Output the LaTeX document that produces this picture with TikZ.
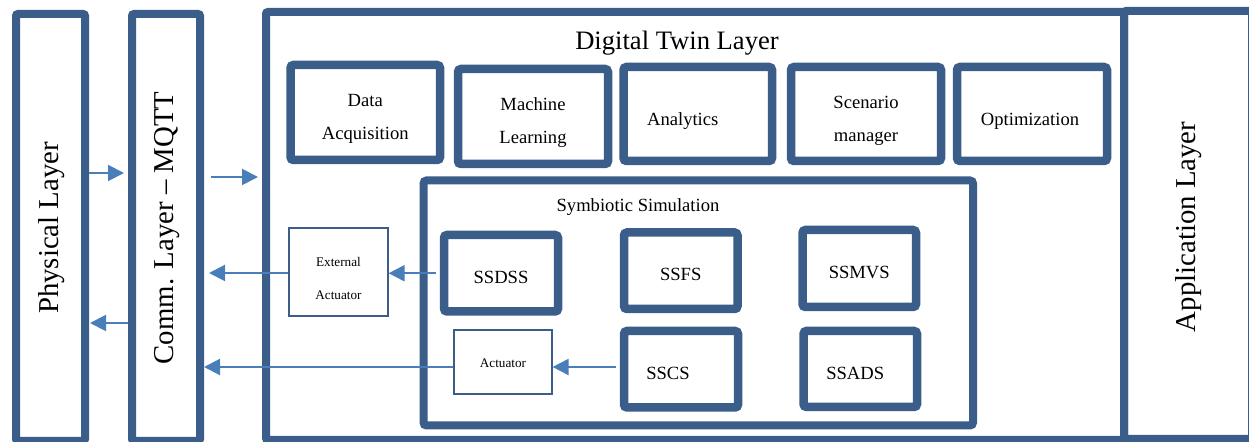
\documentclass[tikz,border=0pt]{standalone}
\usepackage{fontspec}
\setmainfont{Liberation Serif}
\definecolor{layerblue}{RGB}{59, 93, 138}
\definecolor{flowblue}{RGB}{74, 126, 187}
\usetikzlibrary{shapes, arrows.meta, positioning, calc}

\newcommand{\layerfont}{\fontsize{14.4}{17}\selectfont}
\newcommand{\titlefont}{\fontsize{13.3}{16}\selectfont}
\newcommand{\modfont}{\fontsize{9.3}{16.5}\selectfont}
\newcommand{\actfont}{\fontsize{6.6}{16.5}\selectfont}

\tikzset{
  layerbox/.style={draw=layerblue, line width=4pt, rounded corners=1pt, inner sep=0pt},
  modbox/.style={draw=layerblue, line width=4.25pt, rounded corners=1.5pt, inner sep=0pt},
  modtext/.style={align=center, font=\modfont, inner sep=0pt},
  actbox/.style={draw=layerblue, line width=0.6pt, inner sep=0pt},
  acttext/.style={align=center, font=\actfont, inner sep=0pt},
  flow/.style={draw=flowblue, line width=1pt, -{Triangle[length=8pt, width=8pt]}}
}

\begin{document}
\begin{tikzpicture}[x=0.5pt, y=-0.5pt]
  \useasboundingbox (0,0) rectangle (1249,442);
  \clip (0,0) rectangle (1249,442);

  % layers
  \node[layerbox, minimum width=34.5pt, minimum height=213.5pt] (phys) at (50.5,227.5) {};
  \node[layerbox, minimum width=34pt, minimum height=213.5pt] (comm) at (166,227.5) {};
  \node[layerbox, minimum width=429pt, minimum height=214pt] (dt) at (695,226) {};
  \node[layerbox, minimum width=64pt, minimum height=214pt] (app) at (1188,225) {};

  \node[rotate=90, font=\layerfont] (physlabel) at (52,228) {Physical Layer};
  \node[rotate=90, font=\layerfont] (commlabel) at (167,228) {Comm. Layer -- MQTT};
  \node[rotate=90, font=\layerfont] (applabel) at (1189,227) {Application Layer};
  \node[font=\titlefont] (dttitle) at (677,43) {Digital Twin Layer};

  % digital twin modules
  \node[modbox, minimum width=74.75pt, minimum height=47.5pt] (dataacq) at (365.25,112.5) {};
  \node[modbox, minimum width=75pt, minimum height=47.5pt] (machlearn) at (533,116.5) {};
  \node[modbox, minimum width=74.25pt, minimum height=47pt] (analytics) at (697.75,114) {};
  \node[modbox, minimum width=75pt, minimum height=47pt] (scenario) at (866,114) {};
  \node[modbox, minimum width=75pt, minimum height=47pt] (optim) at (1032,114) {};
  \node[modtext] (dataacqtext) at ([yshift=-3pt]dataacq) {Data\\Acquisition};
  \node[modtext] (machlearntext) at ([yshift=-3pt]machlearn) {Machine\\Learning};
  \node[modtext] (analyticstext) at ([xshift=-7.5pt, yshift=-3.5pt]analytics) {Analytics};
  \node[modtext] (scenariotext) at ([yshift=-3.5pt]scenario) {Scenario\\manager};
  \node[modtext] (optimtext) at ([xshift=-1pt, yshift=-3.5pt]optim) {Optimization};

  % symbiotic simulation
  \node[modbox, line width=4pt, minimum width=274.75pt, minimum height=122.5pt] (symsim) at (698.25,303) {};
  \node[modtext] (symtitle) at (638,207) {Symbiotic Simulation};
  \node[modbox, minimum width=57pt, minimum height=38.25pt] (ssdss) at (501,273.25) {};
  \node[modbox, minimum width=56.75pt, minimum height=38.25pt] (ssfs) at (680.75,270.75) {};
  \node[modbox, minimum width=57pt, minimum height=38.25pt] (sscs) at (681,369.25) {};
  \node[modbox, minimum width=56.75pt, minimum height=38.5pt] (ssmvs) at (859.25,268.5) {};
  \node[modbox, minimum width=56.75pt, minimum height=38pt] (ssads) at (860.25,369) {};
  \node[modtext] (ssdsstext) at ([yshift=-2pt]ssdss) {SSDSS};
  \node[modtext] (ssfstext) at ([yshift=-2pt]ssfs) {SSFS};
  \node[modtext] (sscstext) at ([xshift=-6.5pt, yshift=-2pt]sscs) {SSCS};
  \node[modtext] (ssmvstext) at ([yshift=-2pt]ssmvs) {SSMVS};
  \node[modtext] (ssadstext) at ([xshift=-2.5pt, yshift=-2pt]ssads) {SSADS};

  % actuators
  \node[actbox, minimum width=49.5pt, minimum height=44pt] (extact) at (338.5,272) {};
  \node[actbox, minimum width=49pt, minimum height=32pt] (act) at (503,362) {};
  \node[acttext] (extacttext) at ([yshift=-3pt]extact) {External\\Actuator};
  \node[acttext] (acttext) at ([yshift=-0.5pt]act) {Actuator};

  % flows
  \draw[flow, shorten >=2pt] (phys.east |- 0,173) -- (comm.west |- 0,173);
  \draw[flow, shorten <=3.5pt, shorten >=2pt] (comm.east |- 0,177) -- (dt.west |- 0,177);
  \draw[flow, shorten >=0.5pt] (comm.west |- 0,323) -- (phys.east |- 0,323);
  \draw[flow, shorten <=2pt] (ssdss.west) -- (extact.east |- ssdss.west);
  \draw[flow, shorten >=2.5pt] (extact.west |- 0,273) -- (comm.east |- 0,273);
  \draw[flow, shorten <=2pt] (sscs.west |- 0,367) -- (act.east |- 0,367);
  \draw[flow] (act.west |- 0,367) -- (comm.east |- 0,367);
\end{tikzpicture}
\end{document}
